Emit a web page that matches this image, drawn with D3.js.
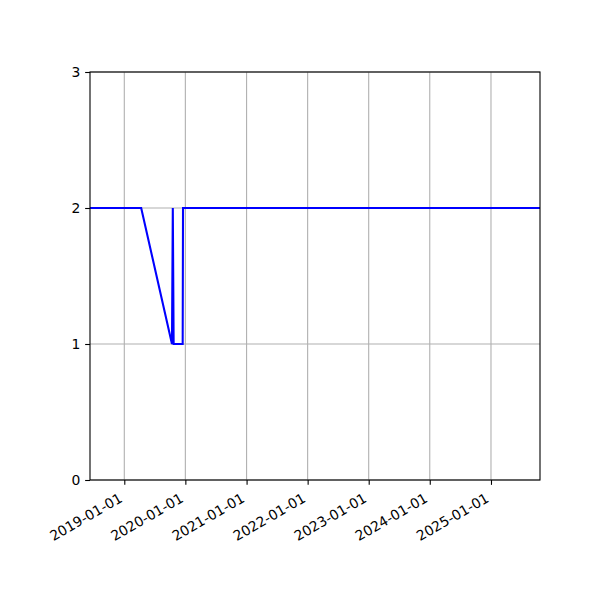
<!DOCTYPE html>
<html>
<head>
<meta charset="utf-8">
<script src="https://cdn.jsdelivr.net/npm/d3@7"></script>
<style>
body { margin: 0; background: #fff; }
svg text { font-family: "DejaVu Sans", sans-serif; }
</style>
</head>
<body>
<svg id="chart" width="600" height="600"></svg>
<script>
// series values
var dates = ["2018-06-10", "2019-04-12", "2019-10-13", "2019-10-18", "2019-10-23", "2019-12-16", "2019-12-18", "2025-10-21"];
var values = [2, 2, 1, 2, 1, 1, 2, 2];
var yTicks = [0, 1, 2, 3];
var xTicks = ["2019-01-01", "2020-01-01", "2021-01-01", "2022-01-01", "2023-01-01", "2024-01-01", "2025-01-01"];

var parse = d3.timeParse("%Y-%m-%d");
var fmt = d3.timeFormat("%Y-%m-%d");
var tickLen = 4.86, pad = 4.86, fontSize = 13.9;

var svg = d3.select("#chart"),
	margin = {top: 72, right: 60, bottom: 120, left: 90},
	width = +svg.attr("width") - margin.left - margin.right,
	height = +svg.attr("height") - margin.top - margin.bottom,
	g = svg.append("g").attr("transform", "translate(" + margin.left + "," + margin.top + ")");

var data = dates.map(function(d, i) { return {date: parse(d), value: values[i]}; });

var x = d3.scaleTime()
	.domain([parse(dates[0]), parse(dates[dates.length - 1])])
	.range([0, width]);

var y = d3.scaleLinear()
	.domain([0, 3])
	.range([height, 0]);

// grid
g.append("g").selectAll("line")
	.data(xTicks.map(parse))
	.enter().append("line")
		.attr("x1", function(d) { return x(d); })
		.attr("x2", function(d) { return x(d); })
		.attr("y1", 0).attr("y2", height)
		.attr("stroke", "#b0b0b0").attr("stroke-width", 1.1);

g.append("g").selectAll("line")
	.data(yTicks)
	.enter().append("line")
		.attr("x1", 0).attr("x2", width)
		.attr("y1", function(d) { return y(d); })
		.attr("y2", function(d) { return y(d); })
		.attr("stroke", "#b0b0b0").attr("stroke-width", 1.1);

// line
g.append("path")
	.datum(data)
	.attr("fill", "none")
	.attr("stroke", "#0000ff")
	.attr("stroke-width", 2.08)
	.attr("d", d3.line()
		.x(function(d) { return x(d.date); })
		.y(function(d) { return y(d.value); }));

// frame
g.append("rect")
	.attr("width", width).attr("height", height)
	.attr("fill", "none").attr("stroke", "#000").attr("stroke-width", 1.1);

// axes
var xAxis = g.append("g")
	.attr("transform", "translate(0," + height + ")")
	.call(d3.axisBottom(x).tickValues(xTicks.map(parse)).tickFormat(fmt).tickSize(tickLen).tickPadding(pad));
xAxis.select(".domain").remove();
xAxis.selectAll("line").attr("stroke-width", 1.1);
xAxis.selectAll("text")
	.attr("font-size", fontSize)
	.attr("fill", "#000")
	.attr("y", 0).attr("dy", 0)
	.style("text-anchor", "end")
	.attr("transform", "rotate(-30)");
// rotated labels: put the top-right corner of their box under the tick
xAxis.selectAll(".tick").each(function() {
	var t = d3.select(this).select("text");
	var tb = t.node().getBoundingClientRect();
	var lb = this.querySelector("line").getBoundingClientRect();
	var dx = lb.left + lb.width / 2 - tb.right;
	var dy = lb.bottom + pad - tb.top;
	t.attr("transform", "translate(" + dx + "," + dy + ") rotate(-30)");
});

var yAxis = g.append("g")
	.call(d3.axisLeft(y).tickValues(yTicks).tickFormat(d3.format("d")).tickSize(tickLen).tickPadding(pad));
yAxis.select(".domain").remove();
yAxis.selectAll("line").attr("stroke-width", 1.1);
yAxis.selectAll("text").attr("font-size", fontSize).attr("fill", "#000");
</script>
</body>
</html>
